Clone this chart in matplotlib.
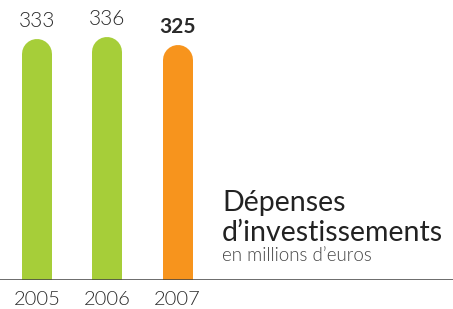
import matplotlib
matplotlib.use("Agg")
import matplotlib.pyplot as plt

years = ["2005", "2006", "2007"]
values = [333, 336, 325]
value_labels = ["333", "336", "325"]
bold_flags = [False, False, True]
colors = ["#a6ce39", "#a6ce39", "#f7941d"]

plt.rcParams['font.family'] = ['Lato', 'DejaVu Sans']

W, H, DPI = 453, 309, 100
fig = plt.figure(figsize=(W / DPI, H / DPI), dpi=DPI)
fig.patch.set_facecolor("white")

base_px = 29
ymax = 380
px_per_unit = 0.7235
ax = fig.add_axes([0, base_px / H, 1, ymax * px_per_unit / H])
spacing = 70.25
first_px = 37
ax.set_xlim(-first_px / spacing, (W - first_px) / spacing)
ax.set_ylim(0, ymax)
ax.axis("off")

bar_w_px = 30
r_data = (bar_w_px / 2) / px_per_unit
lw_pt = bar_w_px * 72 / DPI
xs = list(range(len(values)))
for x, v, c in zip(xs, values, colors):
    ax.plot([x, x], [0, v - r_data], color=c, lw=lw_pt,
            solid_capstyle="round", zorder=2)

for x, v, lab, b in zip(xs, values, value_labels, bold_flags):
    ax.annotate(lab, (x, v), xytext=(0, 5.5), textcoords="offset points",
                ha="center", va="bottom", fontsize=15,
                fontweight="bold" if b else 300, color="#2a2a2a")

ax.axhline(0, color="#444444", lw=1.1, zorder=3)

for x, y in zip(xs, years):
    ax.text(x, 0, y, ha="center", va="baseline", fontsize=14.5, color="#2a2a2a",
            fontweight=300, clip_on=False,
            transform=ax.transData + matplotlib.transforms.ScaledTranslation(0, -25 / DPI, fig.dpi_scale_trans))

fig.text(222 / W, 1 - 211 / H, "Dépenses", fontsize=20.5, color="#222222",
         ha="left", va="baseline", fontweight=400)
fig.text(222 / W, 1 - 241 / H, "d\u2019investissements", fontsize=20.5,
         color="#222222", ha="left", va="baseline", fontweight=400)
fig.text(222 / W, 1 - 261 / H, "en millions d\u2019euros", fontsize=13.5,
         color="#444444", ha="left", va="baseline", fontweight=300)

fig.savefig("out.png", dpi=DPI)
